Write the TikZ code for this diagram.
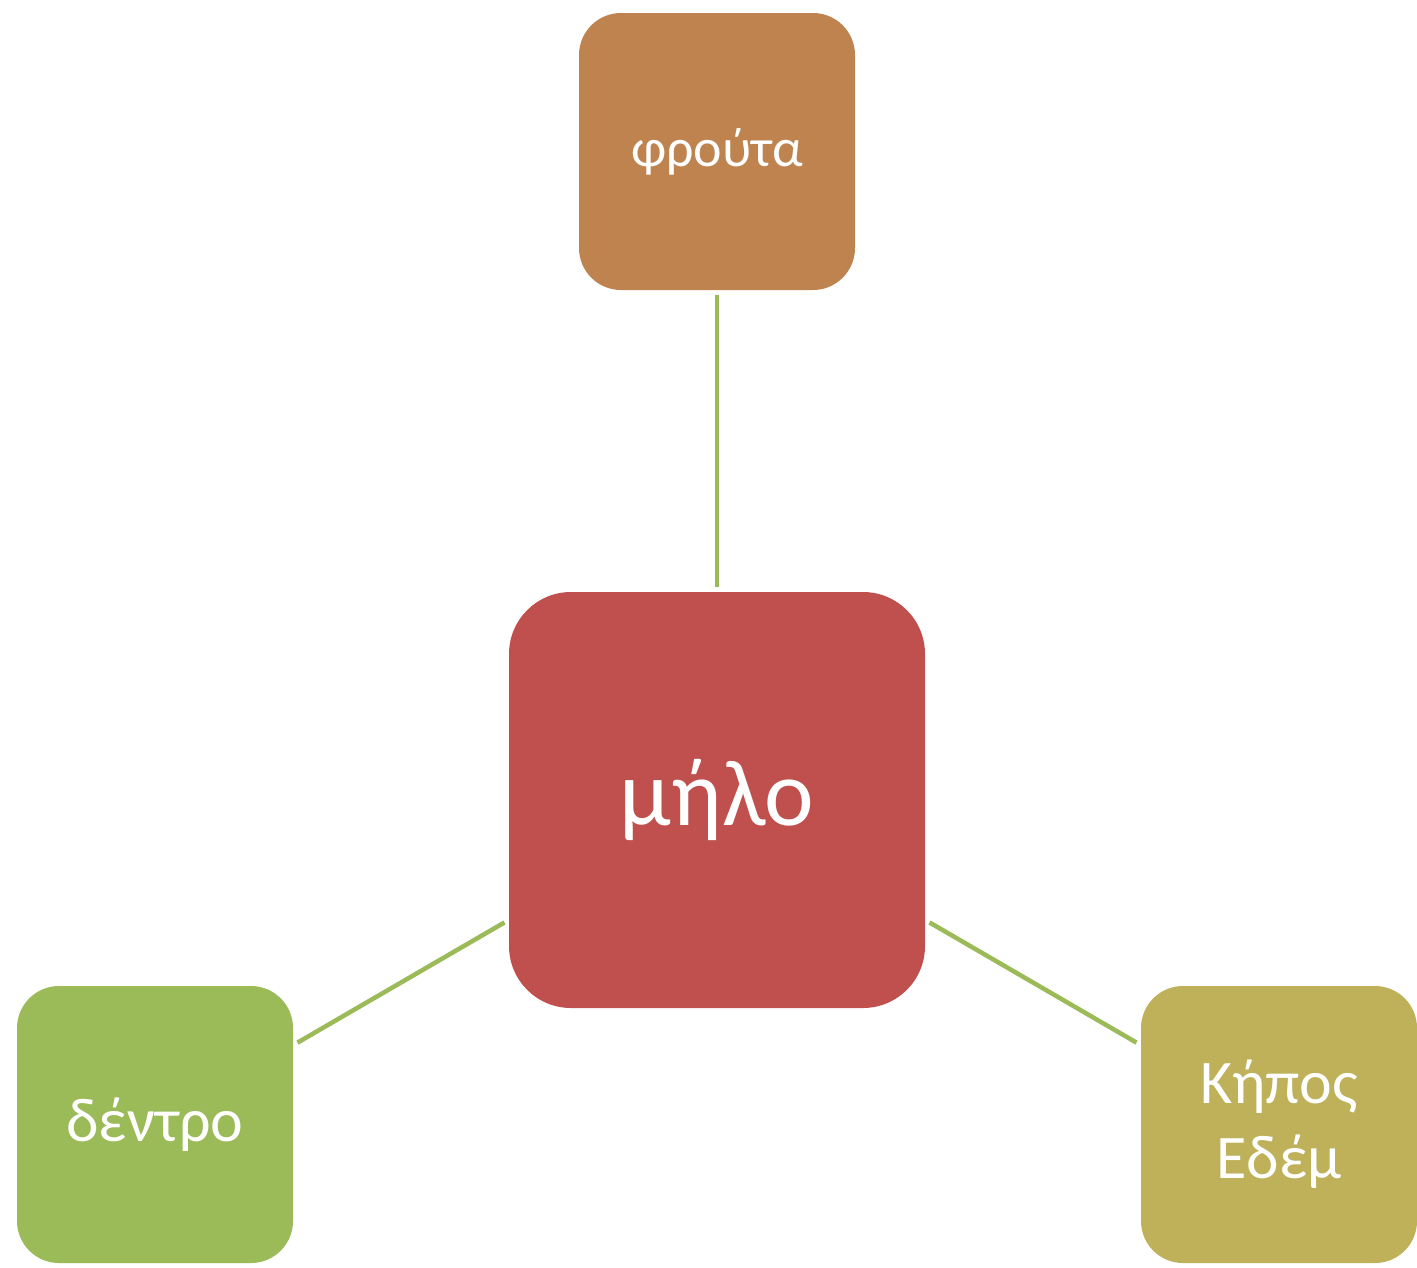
\documentclass[tikz,border=0pt]{standalone}
\usepackage{fontspec}
\setmainfont{Carlito}
\definecolor{hubred}{HTML}{C0504D}
\definecolor{fruitbrown}{HTML}{BF8350}
\definecolor{treegreen}{HTML}{9BBB59}
\definecolor{gardenolive}{HTML}{BEB15A}
\definecolor{linkgreen}{HTML}{9BBB59}
\tikzset{
  hub/.style={fill=hubred, rounded corners=62pt, minimum width=416pt, minimum height=416pt,
    inner sep=0pt, text=white, font=\fontsize{94}{110}\selectfont},
  leaf/.style={rounded corners=42pt, minimum width=276pt, minimum height=277pt,
    inner sep=0pt, text=white, align=center, font=\fontsize{62}{75}\selectfont},
  link/.style={draw=linkgreen, line width=4.5pt, shorten <=5pt, shorten >=5pt}
}
\begin{document}
\begin{tikzpicture}[x=1pt,y=-1pt]
  \useasboundingbox (0,0) rectangle (1417,1267);
  \node[hub] (apple) at (717,800) {μήλο};
  \node[leaf, fill=fruitbrown, font=\fontsize{54}{66}\selectfont] (fruit) at (717,151.5) {φρούτα};
  \node[leaf, fill=treegreen] (tree) at (155,1124.5) {δέντρο};
  \node[leaf, fill=gardenolive] (eden) at (1279,1124.5) {Κήπος\\Εδέμ};
  \draw[link] (apple) -- (fruit);
  \draw[link] (apple) -- (tree);
  \draw[link] (apple) -- (eden);
\end{tikzpicture}
\end{document}
